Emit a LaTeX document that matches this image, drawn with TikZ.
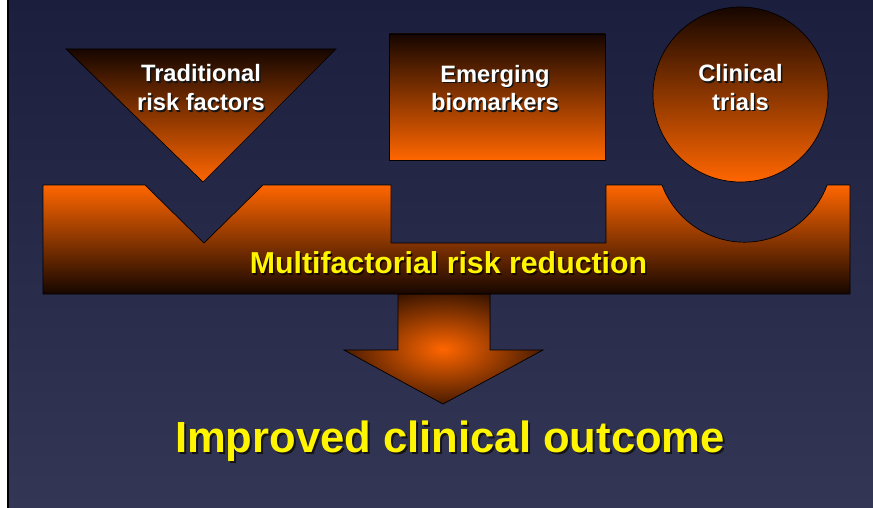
\documentclass[tikz,border=0pt]{standalone}
\usepackage{fontspec}
\setmainfont{Liberation Sans}
\definecolor{bgtop}{RGB}{28,30,62}
\definecolor{bgbot}{RGB}{52,54,86}
\definecolor{org}{RGB}{255,102,0}
\definecolor{mid}{RGB}{172,66,0}
\definecolor{drk}{RGB}{22,6,0}
\definecolor{ylw}{RGB}{255,245,0}
\definecolor{shd}{RGB}{20,20,20}
\tikzset{
  piece/.style={draw=black, line width=0.7pt},
  lbl/.style={anchor=base, inner sep=0pt, text=white, font=\fontsize{23.7}{28}\selectfont\bfseries},
  lblshadow/.style={lbl, text=shd},
  midlbl/.style={anchor=base, inner sep=0pt, text=ylw, font=\fontsize{30.3}{34}\selectfont\bfseries},
  midshadow/.style={midlbl, text=drk},
  biglbl/.style={anchor=base, inner sep=0pt, text=ylw, font=\fontsize{43.6}{48}\selectfont\bfseries},
  bigshadow/.style={biglbl, text=shd}
}
\begin{document}
\begin{tikzpicture}[x=1pt,y=-1pt]
\useasboundingbox (0,0) rectangle (873,508);
% background
\fill[white] (0,0) rectangle (873,508);
\shade[top color=bgtop, bottom color=bgbot] (8,0) rectangle (873,508);
\draw[black, line width=1.2pt] (8,0) -- (8,508);

% arrow
\begin{scope}
  \clip (398,294) -- (490,294) -- (490,350) -- (543,350) -- (443,404) -- (344,350) -- (398,350) -- cycle;
  \fill[drk] (340,290) rectangle (550,410);
  \shade[inner color=org, outer color=drk] (443,349) ellipse [x radius=128, y radius=70];
\end{scope}
\draw[piece] (398,294) -- (490,294) -- (490,350) -- (543,350) -- (443,404) -- (344,350) -- (398,350) -- cycle;

% bar
\shade[piece, top color=org, middle color=mid, bottom color=drk]
  (43,185) -- (145,185) -- (204,243) -- (263,185) -- (391,185) -- (391,243) -- (606,243) -- (606,185) -- (662,185)
  arc[start angle=159.4, end angle=20.6, radius=88.2] -- (850,185) -- (850,294) -- (43,294) -- cycle;

% triangle
\shade[piece, top color=drk, middle color=mid, bottom color=org] (66,49) -- (336,49) -- (203,182) -- cycle;
% rectangle
\shade[piece, top color=drk, middle color=mid, bottom color=org] (389,34) rectangle (605,160);
% circle
\shade[piece, top color=drk, middle color=mid, bottom color=org] (740.5,94.5) circle [radius=87.5];

% labels
\node[lblshadow] (t1s) at (202.5,83.5) {Traditional};
\node[lbl] (t1) at (201,82) {Traditional};
\node[lblshadow] (t2s) at (202.5,112.5) {risk factors};
\node[lbl] (t2) at (201,111) {risk factors};

\node[lblshadow] (e1s) at (496.5,84) {Emerging};
\node[lbl] (e1) at (495,82.5) {Emerging};
\node[lblshadow] (e2s) at (496.5,112.5) {biomarkers};
\node[lbl] (e2) at (495,111) {biomarkers};

\node[lblshadow] (c1s) at (742,83.5) {Clinical};
\node[lbl] (c1) at (740.5,82) {Clinical};
\node[lblshadow] (c2s) at (742,112) {trials};
\node[lbl] (c2) at (740.5,110.5) {trials};

\node[midshadow] (ms) at (450,275) {Multifactorial risk reduction};
\node[midlbl] (m) at (448.5,273) {Multifactorial risk reduction};

\node[bigshadow] (os) at (452,454) {Improved clinical outcome};
\node[biglbl] (o) at (450,452) {Improved clinical outcome};
\end{tikzpicture}
\end{document}
